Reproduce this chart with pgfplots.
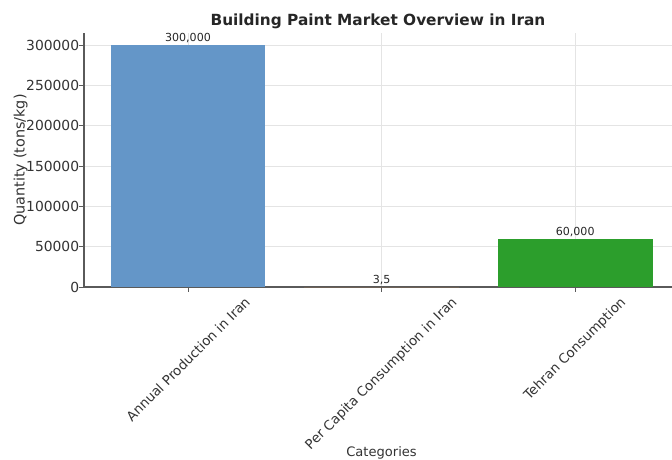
\documentclass[border=0pt]{standalone}
\usepackage{pgfplots}
\pgfplotsset{compat=1.18}
\usepackage{fontspec}
\setmainfont{DejaVu Sans}
\definecolor{barblue}{RGB}{100,150,200}
\definecolor{barorange}{RGB}{255,160,70}
\definecolor{bargreen}{RGB}{44,158,44}
\definecolor{gridc}{RGB}{228,228,228}
\definecolor{spine}{RGB}{90,90,90}
\begin{document}
\begin{tikzpicture}
\begin{axis}[
  name=ax,
  scale only axis,
  width=441pt, height=190.5pt,
  xmin=-0.537, xmax=2.5,
  ymin=0, ymax=315000,
  axis x line*=bottom, axis y line*=left,
  x axis line style={-, spine, line width=0.8pt},
  y axis line style={-, spine, line width=0.8pt},
  xtick={0,1,2},
  xticklabels={\rotatebox{45}{Annual Production in Iran},\rotatebox{45}{Per Capita Consumption in Iran},\rotatebox{45}{Tehran Consumption}},
  xticklabel style={anchor=north, font=\fontsize{10}{12}\selectfont, text=black!80, inner sep=1pt, yshift=-2pt},
  ytick={0,50000,100000,150000,200000,250000,300000},
  scaled y ticks=false,
  /pgf/number format/fixed,
  /pgf/number format/1000 sep={},
  /pgf/number format/assume math mode=true,
  yticklabel style={font=\fontsize{10.4}{12}\selectfont, text=black!80, xshift=3.5pt},
  tick style={spine, line width=0.7pt},
  major tick length=3.6pt,
  tick align=outside,
  grid=major,
  major grid style={gridc, line width=0.6pt},
  xlabel={Categories},
  xlabel style={at={(axis cs:1,0)}, anchor=north, yshift=-116pt, font=\fontsize{9.8}{12}\selectfont, text=black!80},
  ylabel={Quantity (tons/kg)},
  ylabel style={font=\fontsize{10.8}{13}\selectfont, text=black!80, yshift=-8pt},
  title={\bfseries Building Paint Market Overview in Iran},
  title style={font=\fontsize{11.5}{13}\selectfont, text=black!85, yshift=-6.5pt},
  ybar, bar width=0.8, bar shift=0pt,
  nodes near coords,
  point meta=explicit symbolic,
  nodes near coords style={anchor=south, font=\fontsize{8.3}{10}\selectfont, text=black!85, inner sep=1.5pt},
  clip=false,
]
\addplot[fill=barblue, draw=none] coordinates {(0,300000) [300,000]};
\addplot[fill=barorange, draw=none] coordinates {(1,3.5) [3,5]};
\addplot[fill=bargreen, draw=none] coordinates {(2,60000) [60,000]};
\end{axis}
\pgfresetboundingbox
\path ([shift={(-63pt,-129pt)}]ax.south west) rectangle ([shift={(0pt,24.75pt)}]ax.north east);
\end{tikzpicture}
\end{document}
